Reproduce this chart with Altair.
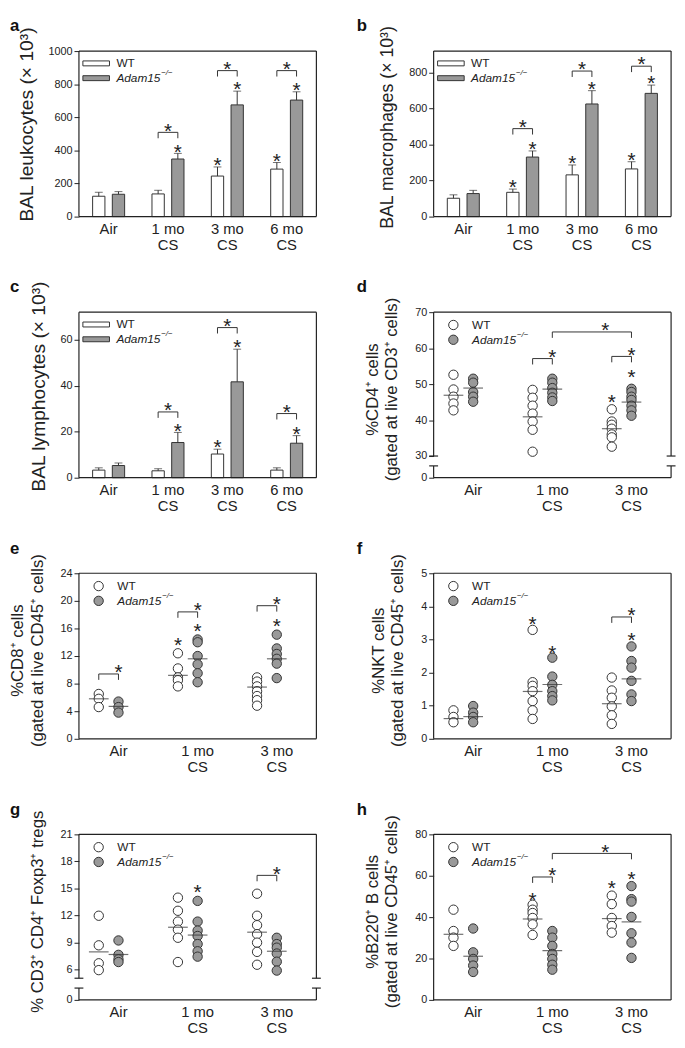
import altair as alt
import pandas as pd

# ---------------- data ----------------
GROUPS4 = ["Air", "1 mo\nCS", "3 mo\nCS", "6 mo\nCS"]
GROUPS3 = ["Air", "1 mo\nCS", "3 mo\nCS"]
GENO = ["WT", "Adam15"]

# a: BAL leukocytes
a_wt_mean = [123, 137, 245, 287]
a_wt_sem = [24, 22, 55, 40]
a_ko_mean = [135, 348, 675, 704]
a_ko_sem = [16, 34, 83, 50]
a_stars = [(1, "Adam15"), (2, "WT"), (2, "Adam15"), (3, "WT"), (3, "Adam15")]
a_brackets = [(1, "WT", 1, "Adam15", 509), (2, "WT", 2, "Adam15", 882), (3, "WT", 3, "Adam15", 882)]
a_yticks = [0, 200, 400, 600, 800, 1000]
a_ymax = 1000

# b: BAL macrophages
b_wt_mean = [102, 135, 232, 265]
b_wt_sem = [19, 18, 55, 40]
b_ko_mean = [128, 331, 626, 685]
b_ko_sem = [18, 34, 74, 46]
b_stars = [(1, "WT"), (1, "Adam15"), (2, "WT"), (2, "Adam15"), (3, "WT"), (3, "Adam15")]
b_brackets = [(1, "WT", 1, "Adam15", 489), (2, "WT", 2, "Adam15", 809), (3, "WT", 3, "Adam15", 836)]
b_yticks = [0, 200, 400, 600, 800]
b_ymax = 920

# c: BAL lymphocytes
c_wt_mean = [3.3, 3.0, 10.3, 3.3]
c_wt_sem = [1.0, 0.9, 2.1, 1.0]
c_ko_mean = [5.3, 15.3, 41.7, 15.0]
c_ko_sem = [1.1, 4.4, 14.2, 3.3]
c_stars = [(1, "Adam15"), (2, "WT"), (2, "Adam15"), (3, "Adam15")]
c_brackets = [(1, "WT", 1, "Adam15", 28.6), (2, "WT", 2, "Adam15", 65.3), (3, "WT", 3, "Adam15", 27.9)]
c_yticks = [0, 20, 40, 60]
c_ymax = 72

# d: %CD4+
d_wt = [[52.6, 48.5, 46.5, 44.6, 42.7],
        [48.4, 46.2, 44.0, 41.8, 39.6, 37.3, 31.2],
        [43.0, 39.6, 38.7, 37.6, 36.0, 35.2, 32.6]]
d_ko = [[51.5, 50.4, 47.8, 46.5, 45.1],
        [51.5, 50.4, 48.9, 47.6, 46.3, 45.3],
        [48.7, 47.8, 46.5, 45.6, 44.0, 42.7, 41.2]]
d_wt_mean = [46.9, 40.9, 37.6]
d_ko_mean = [48.9, 48.6, 45.0]
d_stars = [(2, "WT", 46.5), (2, "Adam15", 53.3)]
d_brackets = [(1, "WT", 1, "Adam15", 57.1), (2, "WT", 2, "Adam15", 57.7), (1, "Adam15", 2, "Adam15", 64.5)]
d_yticks = [0, 30, 40, 50, 60, 70]
d_ydomain = [0, 30, 70]

# e: %CD8+
e_wt = [[6.5, 5.8, 4.6],
        [12.4, 10.2, 8.9, 8.5, 7.6],
        [8.9, 8.3, 7.6, 6.9, 6.2, 5.6, 4.8]]
e_ko = [[5.4, 4.6, 3.8],
        [14.4, 14.0, 12.0, 10.8, 9.5, 8.2],
        [15.1, 13.1, 12.3, 11.6, 10.9, 8.8]]
e_wt_mean = [5.8, 9.2, 7.5]
e_ko_mean = [4.7, 11.6, 11.6]
e_stars = [(1, "WT", 14.3), (1, "Adam15", 16.3), (2, "Adam15", 17.1)]
e_brackets = [(0, "WT", 0, "Adam15", 9.4), (1, "WT", 1, "Adam15", 18.4), (2, "WT", 2, "Adam15", 19.3)]
e_yticks = [0, 4, 8, 12, 16, 20, 24]
e_ydomain = [0, 24]

# f: %NKT
f_wt = [[0.86, 0.66, 0.5],
        [3.29, 1.71, 1.6, 1.44, 1.14, 0.86, 0.6],
        [1.85, 1.46, 1.24, 0.98, 0.71, 0.45]]
f_ko = [[0.99, 0.79, 0.66, 0.5],
        [2.45, 1.88, 1.63, 1.44, 1.29, 1.16],
        [2.79, 2.35, 2.15, 1.75, 1.34, 1.14]]
f_wt_mean = [0.61, 1.43, 1.06]
f_ko_mean = [0.67, 1.64, 1.81]
f_stars = [(1, "WT", 3.63), (1, "Adam15", 2.74), (2, "Adam15", 3.14)]
f_brackets = [(2, "WT", 2, "Adam15", 3.68)]
f_yticks = [0, 1, 2, 3, 4, 5]
f_ydomain = [0, 5]

# g: % CD3+ CD4+ Foxp3+ tregs
g_wt = [[11.95, 8.66, 6.66, 5.9],
        [13.96, 12.5, 11.3, 10.4, 9.5, 6.8],
        [14.4, 11.95, 10.9, 9.9, 8.96, 7.93, 6.5]]
g_ko = [[9.2, 7.6, 7.1, 6.8],
        [13.6, 11.3, 10.3, 9.7, 8.8, 8.0, 7.4],
        [9.5, 8.8, 8.4, 7.75, 6.84, 5.85]]
g_wt_mean = [7.93, 10.67, 10.12]
g_ko_mean = [7.64, 9.8, 8.0]
g_stars = [(1, "Adam15", 15.2)]
g_brackets = [(2, "WT", 2, "Adam15", 16.44)]
g_yticks = [0, 6, 9, 12, 15, 18, 21]
g_ydomain = [0, 5, 21]

# h: %B220+ B cells
h_wt = [[43.6, 33.3, 30.1, 26.1],
        [46.0, 43.6, 42.0, 39.6, 36.5, 31.4],
        [50.4, 46.3, 39.6, 35.7, 32.5]]
h_ko = [[34.5, 23.0, 19.8, 16.6, 13.5],
        [33.3, 30.1, 26.1, 22.2, 19.8, 17.0, 14.6],
        [55.0, 48.7, 47.5, 40.1, 32.2, 27.7, 20.3]]
h_wt_mean = [31.7, 39.1, 39.3]
h_ko_mean = [21.1, 23.8, 37.7]
h_stars = [(1, "WT", 50.7), (2, "WT", 56.3), (2, "Adam15", 60.7)]
h_brackets = [(1, "WT", 1, "Adam15", 59.4), (1, "Adam15", 2, "Adam15", 70.8)]
h_yticks = [0, 20, 40, 60, 80]
h_ydomain = [0, 80]

# ---------------- style ----------------
W, H = 241, 168
FONT = "Liberation Sans, Arial, sans-serif"
INK = "#222222"
LINE = "#333333"
GRAY = "#999999"
STAR_FS = 21
STAR_CENTER = 0.583 * STAR_FS
BREAK_TOP, BREAK_BOT = 146, 156
DOT_SIZE = 90
TOP_ANCHOR = -35


def one_row():
    return pd.DataFrame({"k": [0]})


def xenc(groups, band_position=None):
    kw = {}
    if band_position is not None:
        kw["bandPosition"] = band_position
    return alt.X(
        "group:N",
        scale=alt.Scale(domain=groups, paddingInner=0, paddingOuter=0),
        axis=alt.Axis(title=None, domain=False, ticks=False, grid=False, labelAngle=0,
                      labelFontSize=15, labelColor=INK, labelPadding=5, labelLineHeight=16.5,
                      labelExpr="split(datum.label, '\\n')"),
        **kw,
    )


def xoff(pi, po):
    return alt.XOffset("geno:N", scale=alt.Scale(domain=GENO, paddingInner=pi, paddingOuter=po))


def make_yaxis(title, ticks, title_size, title_pad, title_y):
    return alt.Axis(values=ticks, format="d", title=title, titleFontSize=title_size,
                    titleFontWeight="normal", titleColor=INK, titlePadding=title_pad,
                    titleY=title_y, titleLineHeight=20, labelFontSize=11, labelColor=INK,
                    labelPadding=2, tickSize=5, tickColor=INK, tickWidth=1, domain=False, grid=False)


def rule(x, x2, y, y2):
    return alt.Chart(one_row()).mark_rule(color=INK, strokeWidth=1.2).encode(
        x=alt.value(x), x2=alt.value(x2), y=alt.value(y), y2=alt.value(y2))


def top_anchor():
    # invisible layout anchor: fixes how far the figure content reaches above the plot frame
    return alt.Chart(one_row()).mark_rule(color="white", strokeWidth=0.5, opacity=0).encode(
        x=alt.value(0), x2=alt.value(10), y=alt.value(TOP_ANCHOR), y2=alt.value(TOP_ANCHOR))


def frame(broken=False):
    parts = [rule(0, W, 0, 0), rule(0, W, H, H)]
    if not broken:
        parts += [rule(0, 0, 0, H), rule(W, W, 0, H)]
    else:
        for xe in (0, W):
            parts += [rule(xe, xe, 0, BREAK_TOP), rule(xe, xe, BREAK_BOT, H),
                      rule(xe - 4.5, xe + 4.5, BREAK_TOP, BREAK_TOP),
                      rule(xe - 4.5, xe + 4.5, BREAK_BOT, BREAK_BOT)]
    return parts


def legend_text(xt, y1, y2):
    base = alt.Chart(one_row())
    return [
        base.mark_text(text="WT", align="left", baseline="middle", fontSize=12, color=INK).encode(
            x=alt.value(xt), y=alt.value(y1)),
        base.mark_text(text="Adam15", align="left", baseline="middle", fontSize=12, fontStyle="italic",
                       color=INK).encode(x=alt.value(xt), y=alt.value(y2)),
        base.mark_text(text="\u2212/\u2212", align="left", baseline="middle", fontSize=8, fontStyle="italic",
                       color=INK).encode(x=alt.value(xt + 45.5), y=alt.value(y2 - 5)),
    ]


def bar_legend():
    base = alt.Chart(one_row())
    rects = [base.mark_rect(fill=f, stroke=LINE, strokeWidth=1).encode(
        x=alt.value(4), x2=alt.value(31), y=alt.value(y0), y2=alt.value(y0 + 5))
        for f, y0 in (("white", 10), (GRAY, 25))]
    return rects + legend_text(38, 12.5, 27.5)


def dot_legend():
    base = alt.Chart(one_row())
    circs = [base.mark_circle(size=DOT_SIZE, fill=f, stroke=LINE, strokeWidth=1, opacity=1).encode(
        x=alt.value(20), y=alt.value(yy)) for f, yy in (("white", 13), (GRAY, 28))]
    return circs + legend_text(39, 13, 28)


def letter_mark(letter, lx):
    return alt.Chart(one_row()).mark_text(text=letter, fontSize=17, fontWeight="bold", align="left",
                                          baseline="alphabetic", color="#111111").encode(
        x=alt.value(lx), y=alt.value(-20))


def bracket_layers(groups, brackets, X, XO, Y, drop, half_off):
    rows = []
    stars_same, stars_cross = [], []
    for k, (g1, ge1, g2, ge2, yv) in enumerate(brackets):
        rows += [
            {"id": k, "seq": 0, "group": groups[g1], "geno": ge1, "val": yv - drop},
            {"id": k, "seq": 1, "group": groups[g1], "geno": ge1, "val": yv},
            {"id": k, "seq": 2, "group": groups[g2], "geno": ge2, "val": yv},
            {"id": k, "seq": 3, "group": groups[g2], "geno": ge2, "val": yv - drop},
        ]
        if g1 == g2:
            stars_same.append({"group": groups[g1], "val": yv})
        else:
            stars_cross.append({"group": groups[g2], "val": yv})
    layers = [alt.Chart(pd.DataFrame(rows)).mark_line(color=LINE, strokeWidth=1).encode(
        x=X, xOffset=XO, y=Y("val"), detail="id:N", order="seq:Q")]
    if stars_same:
        layers.append(alt.Chart(pd.DataFrame(stars_same)).mark_text(
            text="*", fontSize=STAR_FS, color=INK, baseline="alphabetic", dy=STAR_CENTER - 7).encode(
            x=X, y=Y("val")))
    if stars_cross:
        layers.append(alt.Chart(pd.DataFrame(stars_cross)).mark_text(
            text="*", fontSize=STAR_FS, color=INK, baseline="alphabetic", dy=STAR_CENTER - 7,
            dx=half_off).encode(x=xenc(groups, 0), y=Y("val")))
    return layers


def bar_panel(letter, lx, title, title_size, title_y, wt_mean, wt_sem, ko_mean, ko_sem, stars, brackets,
              ymax, yticks):
    groups = GROUPS4
    X = xenc(groups)
    XO = xoff(0.375, 0.694)
    yscale = alt.Scale(domain=[0, ymax], nice=False, zero=True)
    yaxis = make_yaxis(title, yticks, title_size, 12, title_y)

    def Y(f):
        return alt.Y(f"{f}:Q", scale=yscale, axis=yaxis)

    rows = []
    for i, g in enumerate(groups):
        rows.append({"group": g, "geno": "WT", "mean": wt_mean[i], "top": wt_mean[i] + wt_sem[i]})
        rows.append({"group": g, "geno": "Adam15", "mean": ko_mean[i], "top": ko_mean[i] + ko_sem[i]})
    df = pd.DataFrame(rows)
    sdf = pd.DataFrame([{"group": groups[gi], "geno": ge,
                         "top": (wt_mean[gi] + wt_sem[gi]) if ge == "WT" else (ko_mean[gi] + ko_sem[gi])}
                        for gi, ge in stars])
    drop = 6 * ymax / H
    layers = [
        alt.Chart(df).mark_bar(stroke=LINE, strokeWidth=1).encode(
            x=X, xOffset=XO, y=Y("mean"),
            fill=alt.Fill("geno:N", scale=alt.Scale(domain=GENO, range=["white", GRAY]), legend=None)),
        alt.Chart(df).mark_rule(color=LINE, strokeWidth=1).encode(
            x=X, xOffset=XO, y=Y("mean"), y2="top:Q"),
        alt.Chart(df).mark_tick(color=LINE, thickness=1, size=8, orient="horizontal").encode(
            x=X, xOffset=XO, y=Y("top")),
        alt.Chart(sdf).mark_text(text="*", fontSize=STAR_FS, color=INK, baseline="alphabetic",
                                 dy=STAR_CENTER - 7).encode(x=X, xOffset=XO, y=Y("top")),
    ]
    layers += bracket_layers(groups, brackets, X, XO, Y, drop, 10)
    layers += bar_legend() + frame(False) + [letter_mark(letter, lx), top_anchor()]
    return alt.layer(*layers).properties(width=W, height=H)


def dot_panel(letter, lx, title, title_size, wt, ko, wt_mean, ko_mean, stars, brackets, ydomain, yticks):
    groups = GROUPS3
    X = xenc(groups)
    XO = xoff(0, 0.4876)
    broken = len(ydomain) == 3
    if broken:
        yscale = alt.Scale(domain=ydomain, range=[H, BREAK_TOP, 0], nice=False, zero=False)
        drop = 6 * (ydomain[2] - ydomain[1]) / BREAK_TOP
    else:
        yscale = alt.Scale(domain=ydomain, nice=False, zero=False)
        drop = 6 * (ydomain[1] - ydomain[0]) / H
    yaxis = make_yaxis(title, yticks, title_size, 14, 78)

    def Y(f):
        return alt.Y(f"{f}:Q", scale=yscale, axis=yaxis)

    pts = []
    for i, g in enumerate(groups):
        pts += [{"group": g, "geno": "WT", "val": v} for v in wt[i]]
        pts += [{"group": g, "geno": "Adam15", "val": v} for v in ko[i]]
    means = []
    for i, g in enumerate(groups):
        means.append({"group": g, "geno": "WT", "val": wt_mean[i]})
        means.append({"group": g, "geno": "Adam15", "val": ko_mean[i]})
    sdf = pd.DataFrame([{"group": groups[gi], "geno": ge, "val": v} for gi, ge, v in stars])
    layers = [
        alt.Chart(pd.DataFrame(pts)).mark_circle(size=DOT_SIZE, stroke=LINE, strokeWidth=1, opacity=1).encode(
            x=X, xOffset=XO, y=Y("val"),
            fill=alt.Fill("geno:N", scale=alt.Scale(domain=GENO, range=["white", GRAY]), legend=None)),
        alt.Chart(pd.DataFrame(means)).mark_tick(color=LINE, thickness=1.2, size=20, orient="horizontal").encode(
            x=X, xOffset=XO, y=Y("val")),
        alt.Chart(sdf).mark_text(text="*", fontSize=STAR_FS, color=INK, baseline="alphabetic",
                                 dy=STAR_CENTER).encode(x=X, xOffset=XO, y=Y("val")),
    ]
    layers += bracket_layers(groups, brackets, X, XO, Y, drop, 13.5)
    layers += dot_legend() + frame(broken) + [letter_mark(letter, lx)]
    return alt.layer(*layers).properties(width=W, height=H)


pa = bar_panel("a", -70, "BAL leukocytes (\u00d7 10\u00b3)", 19.5, 74, a_wt_mean, a_wt_sem, a_ko_mean,
               a_ko_sem, a_stars, a_brackets, a_ymax, a_yticks)
pb = bar_panel("b", -78, "BAL macrophages (\u00d7 10\u00b3)", 18, 77, b_wt_mean, b_wt_sem, b_ko_mean,
               b_ko_sem, b_stars, b_brackets, b_ymax, b_yticks)
pc = bar_panel("c", -70, "BAL lymphocytes (\u00d7 10\u00b3)", 19.5, 75, c_wt_mean, c_wt_sem, c_ko_mean,
               c_ko_sem, c_stars, c_brackets, c_ymax, c_yticks)
pd_ = dot_panel("d", -78, ["%CD4\u207a cells", "(gated at  live CD3\u207a cells)"], 17, d_wt, d_ko,
                d_wt_mean, d_ko_mean, d_stars, d_brackets, d_ydomain, d_yticks)
pe = dot_panel("e", -70, ["%CD8\u207a cells", "(gated at live CD45\u207a cells)"], 17, e_wt, e_ko,
               e_wt_mean, e_ko_mean, e_stars, e_brackets, e_ydomain, e_yticks)
pf = dot_panel("f", -78, ["%NKT cells", "(gated at live CD45\u207a cells)"], 17, f_wt, f_ko,
               f_wt_mean, f_ko_mean, f_stars, f_brackets, f_ydomain, f_yticks)
pg = dot_panel("g", -70, "% CD3\u207a CD4\u207a Foxp3\u207a tregs", 17, g_wt, g_ko,
               g_wt_mean, g_ko_mean, g_stars, g_brackets, g_ydomain, g_yticks)
ph = dot_panel("h", -78, ["%B220\u207a B cells", "(gated at live CD45\u207a cells)"], 17, h_wt, h_ko,
               h_wt_mean, h_ko_mean, h_stars, h_brackets, h_ydomain, h_yticks)

chart = alt.concat(pa, pb, pc, pd_, pe, pf, pg, ph, columns=2,
                   spacing={"row": 97, "column": 119}, bounds="flush").properties(
    padding={"left": 0, "top": 0, "right": 0, "bottom": -2.5}
).configure(font=FONT).configure_view(stroke="transparent")

chart.save("out.html", embed_options={"renderer": "svg", "actions": False})
